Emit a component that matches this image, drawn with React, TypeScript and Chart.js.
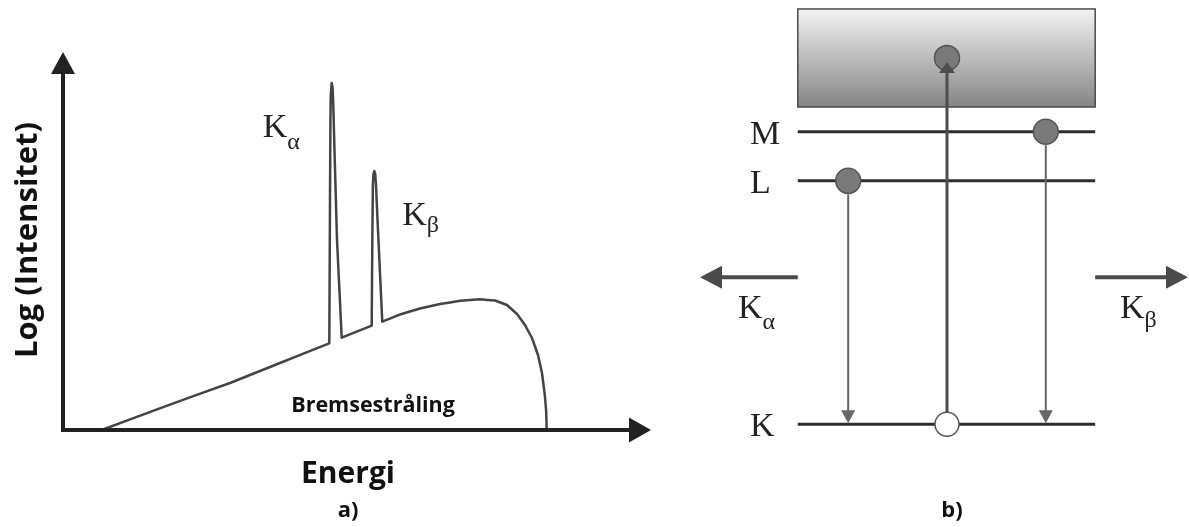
import React, { useEffect, useRef } from 'react';
import { Chart, registerables } from 'chart.js';

Chart.register(...registerables);

// ---------- Panel a) : spectrum ----------
const energy = [
  6.58, 18.76, 28.4, 36.9, 45.29,
  45.41, 45.48, 45.54, 45.7, 45.85, 45.97, 46.17, 46.6, 47.4,
  52.5, 52.62, 52.7, 52.81, 52.94, 53.1, 53.23, 53.49, 54.3,
  57.31, 60.71, 64.12, 67.52, 70.92, 73.47, 75.51, 77.21, 78.57, 79.76, 80.78, 81.46, 81.94, 82.18, 82.26,
];
const logIntensity = [
  0, 7.06, 12.43, 17.72, 22.94,
  60.85, 82.01, 88.62, 91.8, 90.48, 85.98, 74.07, 50.26, 24.42,
  27.59, 52.91, 64.81, 67.72, 68.52, 67.72, 64.81, 55.56, 28.65,
  30.56, 32.14, 33.33, 34.18, 34.58, 34.26, 33.07, 30.69, 27.78, 24.34, 19.84, 15.08, 9.26, 4.76, 0,
];
const peakLabels = ['α', 'β'];
const peakIndex = [8, 18];
const axisTitleX = 'Energi';
const axisTitleY = 'Log (Intensitet)';
const continuumLabel = 'Bremsestråling';
const panelA = 'a)';

// ---------- Panel b) : shell diagram ----------
const shellNames = ['K', 'L', 'M'];
const shellEnergy = [19.5, 65.7, 75.0];
const shellSpan = [21.6, 81.2];
const continuumRange = [79.7, 98.3];
const electronShell = ['L', 'M'];
const electronX = [31.7, 71.3];
const ejectedElectron = { x: 51.5, y: 89.0 };
const vacancy = { x: 51.5, shell: 'K' };
const emissionY = 47.4;
const emissionTips = [2.0, 99.8];
const emissionLabels = ['α', 'β'];
const panelB = 'b)';

const SERIF = '"Liberation Serif", "DejaVu Serif", serif';
const SANS = '"Open Sans", "Noto Sans", sans-serif';

function drawK(ctx: CanvasRenderingContext2D, x: number, baseline: number, sub: string, drop: number) {
  ctx.textAlign = 'left';
  ctx.textBaseline = 'alphabetic';
  ctx.font = `34px ${SERIF}`;
  ctx.fillText('K', x, baseline);
  const w = ctx.measureText('K').width;
  ctx.font = `24px ${SERIF}`;
  ctx.fillText(sub, x + w, baseline + drop);
}

const spectrumDecor = {
  id: 'spectrumDecor',
  afterDraw(chart: any) {
    const { ctx, chartArea: a, scales } = chart;
    const sx = scales.x, sy = scales.y;
    ctx.save();
    ctx.strokeStyle = '#222';
    ctx.fillStyle = '#222';
    ctx.lineWidth = 4;
    ctx.beginPath();
    ctx.moveTo(a.left, a.bottom + 2);
    ctx.lineTo(a.left, a.top + 18);
    ctx.moveTo(a.left - 2, a.bottom);
    ctx.lineTo(a.right - 18, a.bottom);
    ctx.stroke();
    ctx.beginPath();
    ctx.moveTo(a.left, a.top);
    ctx.lineTo(a.left - 12, a.top + 22);
    ctx.lineTo(a.left + 12, a.top + 22);
    ctx.closePath();
    ctx.fill();
    ctx.beginPath();
    ctx.moveTo(a.right, a.bottom);
    ctx.lineTo(a.right - 22, a.bottom - 12.5);
    ctx.lineTo(a.right - 22, a.bottom + 12.5);
    ctx.closePath();
    ctx.fill();

    // peak labels
    ctx.fillStyle = '#222';
    const pa = peakIndex[0], pb = peakIndex[1];
    drawK(ctx, sx.getPixelForValue(energy[pa]) - 69, sy.getPixelForValue(logIntensity[pa]) + 54, peakLabels[0], 12);
    drawK(ctx, sx.getPixelForValue(energy[pb]) + 28, sy.getPixelForValue(logIntensity[pb]) + 54, peakLabels[1], 7);

    // texts
    ctx.fillStyle = '#111';
    ctx.textAlign = 'center';
    ctx.textBaseline = 'alphabetic';
    ctx.font = `bold 21.5px ${SANS}`;
    ctx.fillText(continuumLabel, 373, a.bottom - 18);
    ctx.font = `bold 30px ${SANS}`;
    ctx.fillText(axisTitleX, 348, a.bottom + 53);
    ctx.font = `bold 22px ${SANS}`;
    ctx.fillText(panelA, 348, 517);
    ctx.save();
    ctx.translate(28, 240);
    ctx.rotate(-Math.PI / 2);
    ctx.font = `bold 31px ${SANS}`;
    ctx.textBaseline = 'middle';
    ctx.fillText(axisTitleY, 0, 0);
    ctx.restore();
    ctx.restore();
  },
};

const shellDecor = {
  id: 'shellDecor',
  beforeDatasetsDraw(chart: any) {
    const { ctx, scales } = chart;
    const sx = scales.x, sy = scales.y;
    const x0 = sx.getPixelForValue(shellSpan[0]);
    const x1 = sx.getPixelForValue(shellSpan[1]);
    const yTop = sy.getPixelForValue(continuumRange[1]);
    const yBot = sy.getPixelForValue(continuumRange[0]);
    ctx.save();
    const g = ctx.createLinearGradient(0, yTop, 0, yBot);
    g.addColorStop(0, '#f3f3f3');
    g.addColorStop(1, '#858585');
    ctx.fillStyle = g;
    ctx.fillRect(x0, yTop, x1 - x0, yBot - yTop);
    ctx.strokeStyle = '#4a4a4a';
    ctx.lineWidth = 1.5;
    ctx.strokeRect(x0, yTop, x1 - x0, yBot - yTop);
    ctx.restore();
  },
  afterDatasetsDraw(chart: any) {
    const { ctx, scales } = chart;
    const sx = scales.x, sy = scales.y;
    const r = 12.5;
    const kY = sy.getPixelForValue(shellEnergy[shellNames.indexOf('K')]);
    ctx.save();
    // transitions down
    ctx.strokeStyle = '#666';
    ctx.fillStyle = '#666';
    ctx.lineWidth = 2;
    electronShell.forEach((s, i) => {
      const px = sx.getPixelForValue(electronX[i]);
      const py = sy.getPixelForValue(shellEnergy[shellNames.indexOf(s)]);
      ctx.beginPath();
      ctx.moveTo(px, py + r + 1);
      ctx.lineTo(px, kY - 12);
      ctx.stroke();
      ctx.beginPath();
      ctx.moveTo(px, kY - 1);
      ctx.lineTo(px - 7, kY - 14);
      ctx.lineTo(px + 7, kY - 14);
      ctx.closePath();
      ctx.fill();
    });
    // ionisation arrow up
    const vx = sx.getPixelForValue(vacancy.x);
    const ey = sy.getPixelForValue(ejectedElectron.y);
    ctx.strokeStyle = '#4d4d4d';
    ctx.fillStyle = '#4d4d4d';
    ctx.lineWidth = 3;
    ctx.beginPath();
    ctx.moveTo(vx, kY - 12);
    ctx.lineTo(vx, ey + 14);
    ctx.stroke();
    ctx.beginPath();
    ctx.moveTo(vx, ey + 4);
    ctx.lineTo(vx - 8, ey + 15);
    ctx.lineTo(vx + 8, ey + 15);
    ctx.closePath();
    ctx.fill();
    // emission arrows
    const emY = sy.getPixelForValue(emissionY);
    ctx.strokeStyle = '#4a4a4a';
    ctx.fillStyle = '#4a4a4a';
    ctx.lineWidth = 4;
    const lStart = sx.getPixelForValue(shellSpan[0]);
    const lTip = sx.getPixelForValue(emissionTips[0]);
    const rStart = sx.getPixelForValue(shellSpan[1]);
    const rTip = sx.getPixelForValue(emissionTips[1]);
    ctx.beginPath();
    ctx.moveTo(lStart, emY);
    ctx.lineTo(lTip + 18, emY);
    ctx.moveTo(rStart, emY);
    ctx.lineTo(rTip - 18, emY);
    ctx.stroke();
    ctx.beginPath();
    ctx.moveTo(lTip, emY);
    ctx.lineTo(lTip + 22, emY - 11.5);
    ctx.lineTo(lTip + 22, emY + 11.5);
    ctx.closePath();
    ctx.fill();
    ctx.beginPath();
    ctx.moveTo(rTip, emY);
    ctx.lineTo(rTip - 22, emY - 11.5);
    ctx.lineTo(rTip - 22, emY + 11.5);
    ctx.closePath();
    ctx.fill();

    // labels
    ctx.fillStyle = '#222';
    ctx.textAlign = 'left';
    ctx.textBaseline = 'alphabetic';
    ctx.font = `34px ${SERIF}`;
    shellNames.forEach((n, i) => {
      const py = sy.getPixelForValue(shellEnergy[i]);
      ctx.fillText(n, 60, py + 12);
    });
    drawK(ctx, 48, emY + 41, emissionLabels[0], 11);
    drawK(ctx, 430, emY + 41, emissionLabels[1], 9);
    ctx.fillStyle = '#111';
    ctx.textAlign = 'center';
    ctx.font = `bold 22px ${SANS}`;
    ctx.fillText(panelB, 262, 517);
    ctx.restore();
  },
};

export default function App() {
  const leftRef = useRef<HTMLCanvasElement>(null);
  const rightRef = useRef<HTMLCanvasElement>(null);

  useEffect(() => {
    const c1 = new Chart(leftRef.current as HTMLCanvasElement, {
      type: 'line',
      data: {
        labels: energy,
        datasets: [
          {
            data: energy.map((e, i) => ({ x: e, y: logIntensity[i] })),
            borderColor: '#444',
            borderWidth: 2.5,
            borderJoinStyle: 'round',
            pointRadius: 0,
            tension: 0.00001,
            fill: false,
          },
        ],
      },
      options: {
        responsive: false,
        animation: false,
        devicePixelRatio: 1,
        events: [],
        layout: { autoPadding: false, padding: { left: 63, right: 9, top: 52, bottom: 97 } },
        plugins: { legend: { display: false }, tooltip: { enabled: false } },
        scales: {
          x: { type: 'linear', min: 0, max: 100, display: false },
          y: { type: 'linear', min: 0, max: 100, display: false },
        },
      },
      plugins: [spectrumDecor],
    } as any);

    const levelSets = shellNames.map((n, i) => ({
      type: 'scatter',
      label: n,
      data: [
        { x: shellSpan[0], y: shellEnergy[i] },
        { x: shellSpan[1], y: shellEnergy[i] },
      ],
      showLine: true,
      borderColor: '#2e2e2e',
      borderWidth: 3,
      pointRadius: 0,
      order: 2,
    }));

    const c2 = new Chart(rightRef.current as HTMLCanvasElement, {
      type: 'scatter',
      data: {
        datasets: [
          ...levelSets,
          {
            label: 'electrons',
            data: [
              ...electronShell.map((s, i) => ({ x: electronX[i], y: shellEnergy[shellNames.indexOf(s)] })),
              { x: ejectedElectron.x, y: ejectedElectron.y },
            ],
            pointRadius: 12.5,
            backgroundColor: '#7a7a7a',
            borderColor: '#555',
            borderWidth: 1.5,
            order: 0,
          },
          {
            label: 'vacancy',
            data: [{ x: vacancy.x, y: shellEnergy[shellNames.indexOf(vacancy.shell)] }],
            pointRadius: 12,
            backgroundColor: '#fff',
            borderColor: '#555',
            borderWidth: 1.5,
            order: 0,
          },
        ],
      },
      options: {
        responsive: false,
        animation: false,
        devicePixelRatio: 1,
        events: [],
        layout: { autoPadding: false, padding: 0 },
        plugins: { legend: { display: false }, tooltip: { enabled: false } },
        scales: {
          x: { type: 'linear', min: 0, max: 100, display: false },
          y: { type: 'linear', min: 0, max: 100, display: false },
        },
      },
      plugins: [shellDecor],
    } as any);

    return () => {
      c1.destroy();
      c2.destroy();
    };
  }, []);

  return (
    <div style={{ position: 'fixed', left: 0, top: 0, width: 1189, height: 527, background: '#fff', overflow: 'hidden' }}>
      <canvas ref={leftRef} width={660} height={527} style={{ position: 'absolute', left: 0, top: 0, width: 660, height: 527 }} />
      <canvas ref={rightRef} width={499} height={527} style={{ position: 'absolute', left: 690, top: 0, width: 499, height: 527 }} />
    </div>
  );
}
